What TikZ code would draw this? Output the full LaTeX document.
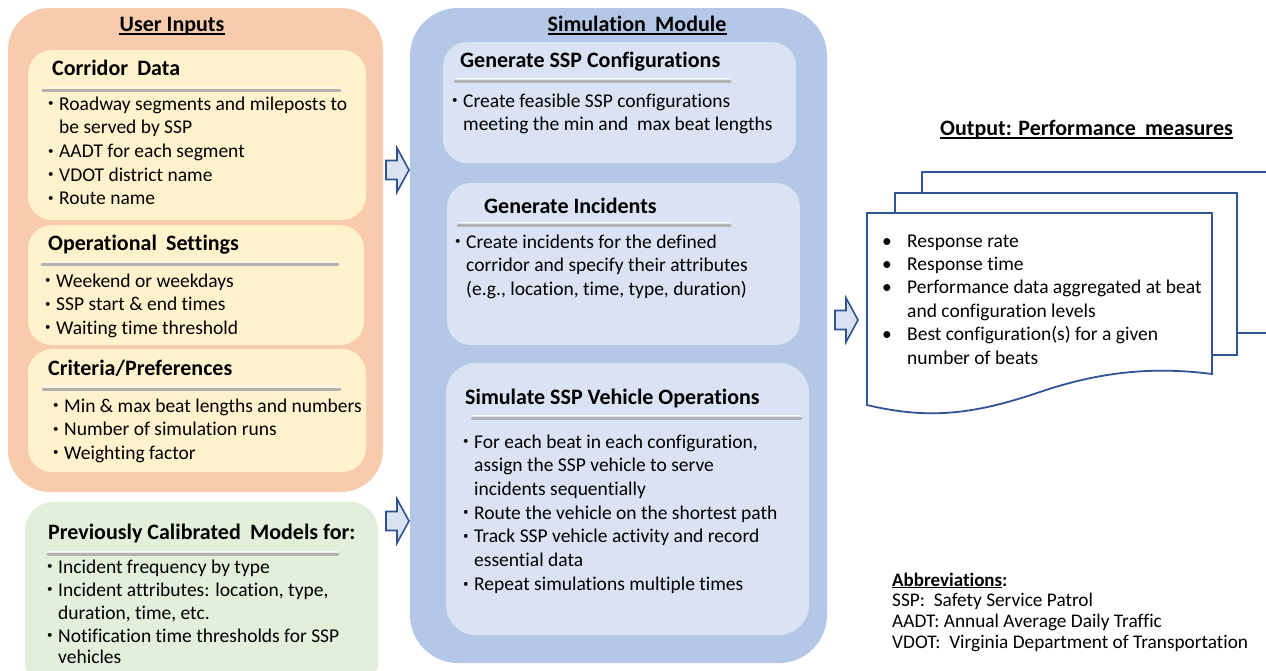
\documentclass[tikz,border=0pt]{standalone}
\usepackage{fontspec}
\setmainfont{Carlito}[Ligatures={TeX,NoCommon}]
\definecolor{peach}{HTML}{F8CBAD}
\definecolor{cream}{HTML}{FFF2CC}
\definecolor{sage}{HTML}{E2EFDA}
\definecolor{bluebig}{HTML}{B4C7E7}
\definecolor{bluein}{HTML}{DAE3F3}
\definecolor{navy}{HTML}{2F5597}
\definecolor{arrowline}{HTML}{2F528F}
\newcommand\bitem{\makebox[11pt][l]{\raisebox{3.2pt}{\fontsize{11}{11}\selectfont\textbullet}}}
\newcommand\cont{\hspace*{11pt}}
\newcommand\wsp{\hspace{0.42em}}
\newcommand\sepline[3]{%
  \draw[line width=3pt, black!30, line cap=round] (#1,#3+1.2) -- (#2,#3+1.2);
  \draw[line width=1.2pt, white!95!gray] (#1,#3-1.2) -- (#2,#3-1.2);}
\newcommand\blockarrow[2]{%
  \draw[arrowst] (#1,#2-9.5) -- ++(11,0) -- ++(0,-12.5) -- ++(12,22) -- ++(-12,22) -- ++(0,-12.5) -- ++(-11,0) -- cycle;}
\begin{document}
\begin{tikzpicture}[x=1pt,y=-1pt,
  txt/.style={anchor=base west,inner sep=0pt,font=\fontsize{19.5}{23.5}\selectfont},
  abbr/.style={anchor=base west,inner sep=0pt,font=\fontsize{19.3}{22}\selectfont},
  ttl/.style={anchor=base west,inner sep=0pt,font=\fontsize{22}{26}\selectfont\bfseries},
  head/.style={anchor=base,inner sep=0pt,font=\fontsize{22}{26}\selectfont\bfseries},
  uline/.style={line width=1.4pt,black},
  arrowst/.style={draw=arrowline,fill=bluein,line width=1.6pt,line join=miter},
  docst/.style={draw=navy,line width=1.8pt,fill=white}]
\useasboundingbox (0,0) rectangle (1266,670);
\clip (0,0) rectangle (1266,670);
\fill[white] (0,0) rectangle (1266,670);

% ---------------- User inputs ----------------
\fill[peach, rounded corners=42] (8,8) rectangle (383,492);
\node[head] (ui) at (172,31) {User Inputs};
\draw[uline] ([yshift=-3pt]ui.base west) -- ([yshift=-3pt]ui.base east);

\fill[cream, rounded corners=24] (28,50) rectangle (366,220);
\node[ttl] (cdt) at (52,75) {Corridor\wsp Data};
\sepline{43}{340}{89}
\node[txt] (cd1) at (48,110) {\bitem Roadway segments and mileposts to};
\node[txt] (cd2) at (48,133.7) {\cont be served by SSP};
\node[txt] (cd3) at (48,157.4) {\bitem AADT for each segment};
\node[txt] (cd4) at (48,181.1) {\bitem VDOT district name};
\node[txt] (cd5) at (48,204.8) {\bitem Route name};

\fill[cream, rounded corners=24] (28,225) rectangle (364,345);
\node[ttl] (ost) at (48,250) {Operational\wsp Settings};
\sepline{42}{338}{263}
\node[txt] (os1) at (45,287) {\bitem Weekend or weekdays};
\node[txt] (os2) at (45,310.5) {\bitem SSP start \& end times};
\node[txt] (os3) at (45,334) {\bitem Waiting time threshold};

\fill[cream, rounded corners=24] (28,349) rectangle (366,472);
\node[ttl] (crt) at (48,375) {Criteria/Preferences};
\sepline{43}{340}{388}
\node[txt] (cr1) at (53,412) {\bitem Min \& max beat lengths and numbers};
\node[txt] (cr2) at (53,435.5) {\bitem Number of simulation runs};
\node[txt] (cr3) at (53,459) {\bitem Weighting factor};

% ---------------- Previously calibrated ----------------
\fill[sage, rounded corners=28] (25,502) rectangle (378,690);
\node[ttl] (pct) at (48,539) {Previously Calibrated\wsp Models for:};
\sepline{48}{338}{553}
\node[txt] (pc1) at (47,573) {\bitem Incident frequency by type};
\node[txt] (pc2) at (47,596) {\bitem Incident attributes: location, type,};
\node[txt] (pc3) at (47,619) {\cont duration, time, etc.};
\node[txt] (pc4) at (47,642) {\bitem Notification time thresholds for SSP};
\node[txt] (pc5) at (47,663.5) {\cont vehicles};

% ---------------- arrows ----------------
\blockarrow{386}{170}
\blockarrow{386}{521}
\blockarrow{835}{320}

% ---------------- Simulation module ----------------
\fill[bluebig, rounded corners=48] (410,8) rectangle (827,663);
\node[head] (sm) at (637,31) {Simulation\wsp Module};
\draw[uline] ([yshift=-3pt]sm.base west) -- ([yshift=-3pt]sm.base east);

\fill[bluein, rounded corners=24] (443,42) rectangle (796,163);
\node[ttl] (gst) at (460,67) {Generate SSP Configurations};
\sepline{455}{730}{80}
\node[txt] (gs1) at (452,107) {\bitem Create feasible SSP configurations};
\node[txt] (gs2) at (452,130.5) {\cont meeting the min and\ \ max beat lengths};

\fill[bluein, rounded corners=24] (447,183) rectangle (800,345);
\node[ttl] (git) at (484,213) {Generate Incidents};
\sepline{458}{730}{224}
\node[txt] (gi1) at (455,248) {\bitem Create incidents for the defined};
\node[txt] (gi2) at (455,271.5) {\cont corridor and specify their attributes};
\node[txt] (gi3) at (455,295) {\cont (e.g., location, time, type, duration)};

\fill[bluein, rounded corners=30] (446,363) rectangle (809,635);
\node[ttl] (sst) at (465,404) {Simulate SSP Vehicle Operations};
\sepline{472}{801}{417}
\node[txt] (ss1) at (463,448) {\bitem For each beat in each configuration,};
\node[txt] (ss2) at (463,471.7) {\cont assign the SSP vehicle to serve};
\node[txt] (ss3) at (463,495.4) {\cont incidents sequentially};
\node[txt] (ss4) at (463,519.1) {\bitem Route the vehicle on the shortest path};
\node[txt] (ss5) at (463,542.8) {\bitem Track SSP vehicle activity and record};
\node[txt] (ss6) at (463,566.5) {\cont essential data};
\node[txt] (ss7) at (463,590.2) {\bitem Repeat simulations multiple times};

% ---------------- Output ----------------
\node[ttl] (out) at (940,135) {Output: Performance\wsp measures};
\draw[uline] ([yshift=-3pt]out.base west) -- ([yshift=-3pt]out.base east);

\draw[docst] (922,193) -- (922,172) -- (1275,172) -- (1275,333) -- (1237,333);
\draw[docst] (895,213) -- (895,193) -- (1237,193) -- (1237,355) -- (1212,355);
\draw[docst] (867,213) -- (1212,213) -- (1212,374)
  .. controls (1165,368) and (1110,368) .. (1040,392)
  .. controls (975,414) and (930,420) .. (867,405) -- cycle;

\node[txt] (ob1) at (882,247) {\textbullet};
\node[txt] (o1) at (907,247) {Response rate};
\node[txt] (ob2) at (882,270) {\textbullet};
\node[txt] (o2) at (907,270) {Response time};
\node[txt] (ob3) at (882,293.5) {\textbullet};
\node[txt] (o3) at (907,293.5) {Performance data aggregated at beat};
\node[txt] (o4) at (907,317) {and configuration levels};
\node[txt] (ob5) at (882,340.5) {\textbullet};
\node[txt] (o5) at (907,340.5) {Best configuration(s) for a given};
\node[txt] (o6) at (907,364) {number of beats};

% ---------------- Abbreviations ----------------
\node[abbr, font=\fontsize{19}{22}\selectfont\bfseries] (ab) at (892,586) {\underline{Abbreviations}:};
\node[abbr] (ab1) at (892,606) {SSP:\ \ Safety Service Patrol};
\node[abbr] (ab2) at (892,627) {AADT: Annual Average Daily Traffic};
\node[abbr] (ab3) at (892,648) {VDOT:\ \ Virginia Department of Transportation};
\end{tikzpicture}
\end{document}
